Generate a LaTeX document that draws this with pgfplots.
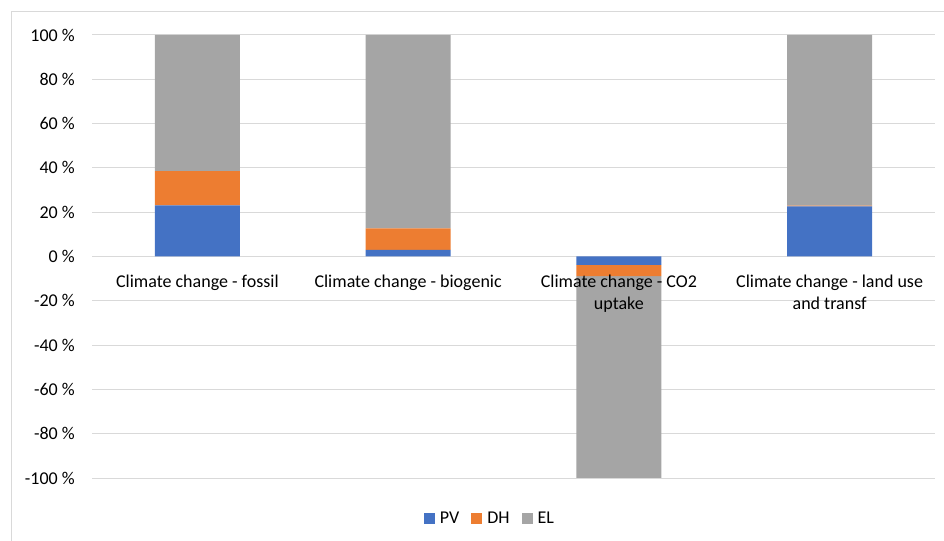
\documentclass[border=0pt]{standalone}
\usepackage{fontspec}
\setmainfont{Carlito}
\usepackage{pgfplots}
\pgfplotsset{compat=1.18}

\definecolor{pvblue}{HTML}{4472C4}
\definecolor{dhorange}{HTML}{ED7D31}
\definecolor{elgray}{HTML}{A5A5A5}
\definecolor{gridgray}{HTML}{D9D9D9}

\tikzset{catlabel/.style={anchor=north, align=center, inner sep=0pt, yshift=-18.5bp}}

\begin{document}
\begin{tikzpicture}[font=\fontsize{18bp}{22bp}\selectfont]
  % page extent and the light chart-area frame
  \path[use as bounding box] (-92bp,-63bp) rectangle (852bp,478bp);
  \draw[gridgray, line width=1bp] (-80bp,-80bp) -- (-80bp,466bp) -- (870bp,466bp);
  \begin{axis}[
    at={(0,0)}, anchor=south west,
    scale only axis,
    width=843bp, height=443bp,
    ybar stacked,
    bar width=85bp,
    xmin=-0.5, xmax=3.5,
    ymin=-100, ymax=100,
    axis line style={draw=none},
    tick style={draw=none},
    xtick=\empty,
    ytick={-100,-80,...,100},
    yticklabels={-100 \%,-80 \%,-60 \%,-40 \%,-20 \%,0 \%,20 \%,40 \%,60 \%,80 \%,100 \%},
    yticklabel style={anchor=east, inner sep=0pt, xshift=-17bp},
    ymajorgrids,
    grid style={gridgray, line width=1bp},
    legend style={at={(rel axis cs:0.472,-0.0903)}, anchor=center, draw=none,
      fill=none, inner sep=0pt, legend columns=-1,
      /tikz/every odd column/.append style={column sep=3bp},
      /tikz/every even column/.append style={column sep=10bp},
      font=\fontsize{18bp}{22bp}\selectfont},
    legend image code/.code={\fill[#1] (0bp,-5.5bp) rectangle (11bp,5.5bp);},
  ]
    % shares of each impact category, in percent
    \addplot[fill=pvblue, draw=none] coordinates {(0,23.1) (1,3.0) (2,-3.8) (3,22.6)};
    \addplot[fill=dhorange, draw=none] coordinates {(0,15.4) (1,9.7) (2,-5.1) (3,0.4)};
    \addplot[fill=elgray, draw=none] coordinates {(0,61.5) (1,87.3) (2,-91.1) (3,77.0)};
    \legend{PV, DH, EL}
    % anchor points of the category names on the zero line
    \coordinate (c0) at (axis cs:0,0);
    \coordinate (c1) at (axis cs:1,0);
    \coordinate (c2) at (axis cs:2,0);
    \coordinate (c3) at (axis cs:3,0);
  \end{axis}
  % category names, set above the bars
  \node[catlabel] at (c0) {Climate change - fossil};
  \node[catlabel] at (c1) {Climate change - biogenic};
  \node[catlabel] at (c2) {Climate change - CO2\\uptake};
  \node[catlabel] at (c3) {Climate change - land use\\and transf};
\end{tikzpicture}
\end{document}
